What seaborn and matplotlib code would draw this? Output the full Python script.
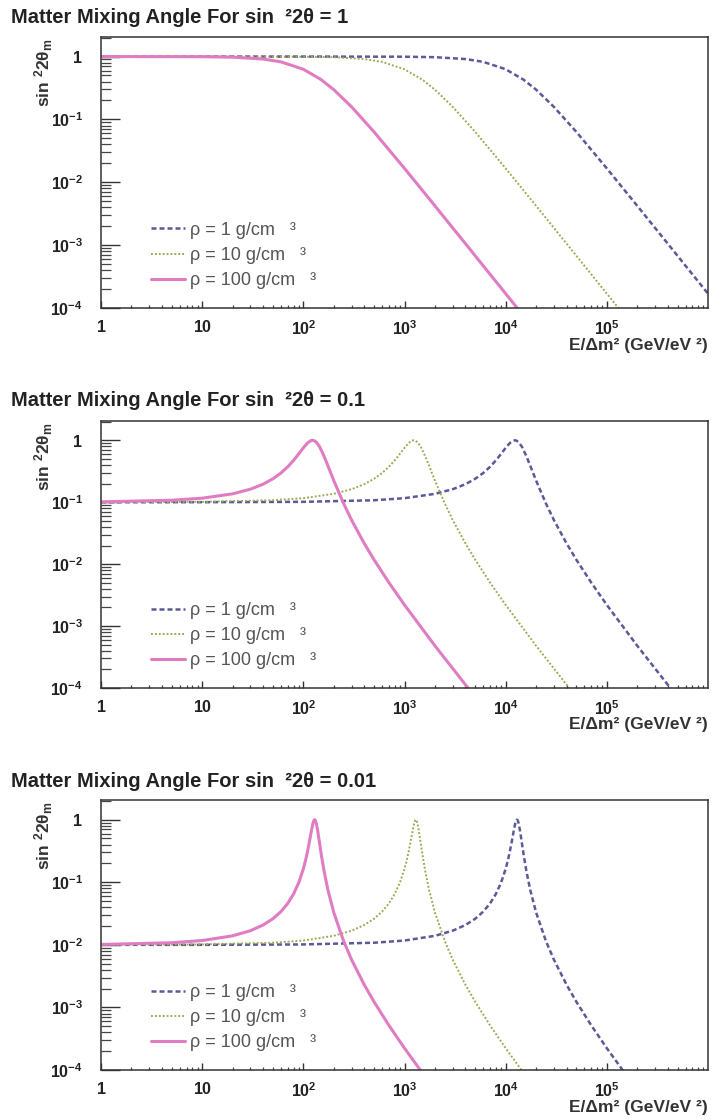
import numpy as np
import pandas as pd
import matplotlib
matplotlib.use("Agg")
import matplotlib.pyplot as plt
from matplotlib.ticker import LogLocator, FuncFormatter, NullFormatter
import seaborn as sns

sns.set_style("ticks")
plt.rcParams['font.family'] = ['Liberation Sans', 'DejaVu Sans']
plt.rcParams['mathtext.fontset'] = 'custom'
plt.rcParams['mathtext.bf'] = 'Liberation Sans:bold'
plt.rcParams['mathtext.rm'] = 'Liberation Sans'
plt.rcParams['mathtext.default'] = 'bf'

# values, E/dm^2 in GeV/eV^2
# panel 1 : sin^2 2theta = 1
p1_e_1 = [1, 10, 100, 1000, 2000, 4000, 6000, 10000, 15000, 20000, 30000, 50000, 100000, 200000, 500000, 1000000]
p1_y_1 = [1.0, 1.0, 1.0, 0.994, 0.977, 0.913, 0.824, 0.628, 0.429, 0.297, 0.158, 0.0633, 0.0166, 0.00421, 0.000676, 0.000169]
p1_e_10 = [1, 10, 100, 200, 400, 600, 1000, 1500, 2000, 3000, 5000, 10000, 20000, 50000, 100000, 200000]
p1_y_10 = [1.0, 1.0, 0.994, 0.977, 0.913, 0.824, 0.628, 0.429, 0.297, 0.158, 0.0633, 0.0166, 0.00421, 0.000676, 0.000169, 0.0000422]
p1_e_100 = [1, 10, 20, 40, 60, 100, 150, 200, 300, 500, 1000, 2000, 5000, 10000, 20000]
p1_y_100 = [1.0, 0.994, 0.977, 0.913, 0.824, 0.628, 0.429, 0.297, 0.158, 0.0633, 0.0166, 0.00421, 0.000676, 0.000169, 0.0000422]

# panel 2 : sin^2 2theta = 0.1
p2_e_1 = [1, 10, 100, 500, 1000, 2000, 3000, 4000, 5000, 6000, 7000, 8000, 9000, 10000, 11000, 11800, 12300,
          12800, 13500, 14500, 16000, 18000, 20000, 25000, 30000, 40000, 50000, 70000, 100000, 200000, 500000]
p2_y_1 = [0.1000, 0.1002, 0.1015, 0.1077, 0.1163, 0.1367, 0.1625, 0.1957, 0.2391, 0.2964, 0.3727, 0.4737, 0.6034,
          0.7564, 0.905, 0.9835, 1.0, 0.987, 0.9254, 0.7825, 0.5568, 0.3448, 0.2233, 0.0953, 0.0514, 0.0216,
          0.01177, 0.005056, 0.002194, 0.00048, 0.000071]
p2_e_10 = [1, 10, 50, 100, 200, 300, 400, 500, 600, 700, 800, 900, 1000, 1100, 1180, 1230,
           1280, 1350, 1450, 1600, 1800, 2000, 2500, 3000, 4000, 5000, 7000, 10000, 20000, 50000]
p2_y_10 = [0.1002, 0.1015, 0.1077, 0.1163, 0.1367, 0.1625, 0.1957, 0.2391, 0.2964, 0.3727, 0.4737, 0.6034,
           0.7564, 0.905, 0.9835, 1.0, 0.987, 0.9254, 0.7825, 0.5568, 0.3448, 0.2233, 0.0953, 0.0514, 0.0216,
           0.01177, 0.005056, 0.002194, 0.00048, 0.000071]
p2_e_100 = [1, 5, 10, 20, 30, 40, 50, 60, 70, 80, 90, 100, 110, 118, 123,
            128, 135, 145, 160, 180, 200, 250, 300, 400, 500, 700, 1000, 2000, 5000]
p2_y_100 = [0.1015, 0.1077, 0.1163, 0.1367, 0.1625, 0.1957, 0.2391, 0.2964, 0.3727, 0.4737, 0.6034,
            0.7564, 0.905, 0.9835, 1.0, 0.987, 0.9254, 0.7825, 0.5568, 0.3448, 0.2233, 0.0953, 0.0514, 0.0216,
            0.01177, 0.005056, 0.002194, 0.00048, 0.000071]

# panel 3 : sin^2 2theta = 0.01
p3_e_1 = [1, 10, 100, 500, 1000, 2000, 3000, 4000, 5000, 6000, 7000, 8000, 9000, 10000, 10500, 11000, 11500,
          12000, 12400, 12700, 12900, 13100, 13400, 13800, 14300, 15000, 16000, 17500, 20000, 25000, 30000,
          40000, 50000, 70000, 100000, 150000]
p3_y_1 = [0.0100, 0.0100, 0.01015, 0.01081, 0.01172, 0.01394, 0.01684, 0.02073, 0.02614, 0.03394, 0.04579,
          0.0649, 0.0984, 0.164, 0.2218, 0.3111, 0.4507, 0.659, 0.855, 0.968, 0.999, 0.984, 0.8865, 0.6935,
          0.4755, 0.284, 0.1524, 0.075, 0.03274, 0.01148, 0.00577, 0.002302, 0.001229, 0.000519, 0.000223,
          0.000090]
p3_e_10 = [1, 10, 50, 100, 200, 300, 400, 500, 600, 700, 800, 900, 1000, 1050, 1100, 1150,
           1200, 1240, 1270, 1290, 1310, 1340, 1380, 1430, 1500, 1600, 1750, 2000, 2500, 3000,
           4000, 5000, 7000, 10000, 15000]
p3_y_10 = [0.0100, 0.01015, 0.01081, 0.01172, 0.01394, 0.01684, 0.02073, 0.02614, 0.03394, 0.04579,
           0.0649, 0.0984, 0.164, 0.2218, 0.3111, 0.4507, 0.659, 0.855, 0.968, 0.999, 0.984, 0.8865, 0.6935,
           0.4755, 0.284, 0.1524, 0.075, 0.03274, 0.01148, 0.00577, 0.002302, 0.001229, 0.000519, 0.000223,
           0.000090]
p3_e_100 = [1, 5, 10, 20, 30, 40, 50, 60, 70, 80, 90, 100, 105, 110, 115,
            120, 124, 127, 129, 131, 134, 138, 143, 150, 160, 175, 200, 250, 300,
            400, 500, 700, 1000, 1500]
p3_y_100 = [0.01015, 0.01081, 0.01172, 0.01394, 0.01684, 0.02073, 0.02614, 0.03394, 0.04579,
            0.0649, 0.0984, 0.164, 0.2218, 0.3111, 0.4507, 0.659, 0.855, 0.968, 0.999, 0.984, 0.8865, 0.6935,
            0.4755, 0.284, 0.1524, 0.075, 0.03274, 0.01148, 0.00577, 0.002302, 0.001229, 0.000519, 0.000223,
            0.000090]

x_ticks = [1, 10, 100, 1000, 10000, 100000]
y_ticks = [0.0001, 0.001, 0.01, 0.1, 1]

titles = ["Matter Mixing Angle For sin  \u00b22\u03b8 = 1",
          "Matter Mixing Angle For sin  \u00b22\u03b8 = 0.1",
          "Matter Mixing Angle For sin  \u00b22\u03b8 = 0.01"]
labels = ["\u03c1 = 1 g/cm   \u00b3", "\u03c1 = 10 g/cm   \u00b3", "\u03c1 = 100 g/cm   \u00b3"]
colors = ["#5a5a98", "#9cab55", "#e07cc2"]

panels = [
    [(p1_e_1, p1_y_1), (p1_e_10, p1_y_10), (p1_e_100, p1_y_100)],
    [(p2_e_1, p2_y_1), (p2_e_10, p2_y_10), (p2_e_100, p2_y_100)],
    [(p3_e_1, p3_y_1), (p3_e_10, p3_y_10), (p3_e_100, p3_y_100)],
]

styles = [dict(linestyle=(0, (2.0, 1.2)), lw=1.8),
          dict(linestyle=(0, (1.0, 1.0)), lw=1.4),
          dict(linestyle="-", lw=2.2)]

# axes boxes in figure fractions (left, bottom, width, height)
boxes = [(0.1419, 0.7250, 0.8525, 0.2420),
         (0.1419, 0.3857, 0.8525, 0.2384),
         (0.1419, 0.0446, 0.8525, 0.2410)]
title_y = [0.984, 0.642, 0.302]


def fmt(v, pos):
    n = int(round(np.log10(v)))
    if n == 0:
        return "$1$"
    if n == 1:
        return "$10$"
    return "$10^{%d}$" % n


fig = plt.figure(figsize=(7.12, 11.2), dpi=100)

for i, curves in enumerate(panels):
    ax = fig.add_axes(boxes[i])
    ax.set(xscale="log", yscale="log")
    for j, (e, y) in enumerate(curves):
        df = pd.DataFrame({"E": e, "s": y})
        sns.lineplot(data=df, x="E", y="s", ax=ax, color=colors[j], label=labels[j],
                     estimator=None, sort=False, **styles[j])
    ax.set_xlim(1, 1e6)
    ax.set_ylim(1e-4, 2.05)
    ax.set_xlabel("")
    ax.set_ylabel("")

    ax.set_xticks(x_ticks)
    ax.set_yticks(y_ticks)
    ax.xaxis.set_minor_locator(LogLocator(base=10, subs=np.arange(2, 10), numticks=20))
    ax.yaxis.set_minor_locator(LogLocator(base=10, subs=np.arange(2, 10), numticks=20))
    ax.xaxis.set_major_formatter(FuncFormatter(fmt))
    ax.yaxis.set_major_formatter(FuncFormatter(fmt))
    ax.xaxis.set_minor_formatter(NullFormatter())
    ax.yaxis.set_minor_formatter(NullFormatter())

    ax.tick_params(axis="y", which="major", direction="in", length=14, width=1.0, pad=13,
                   labelsize=11.5, colors="#333333", labelcolor="#222222")
    ax.tick_params(axis="y", which="minor", direction="in", length=7, width=0.9, colors="#444444")
    ax.tick_params(axis="x", which="major", direction="in", length=5, width=1.0, pad=8,
                   labelsize=11.5, colors="#333333", labelcolor="#222222")
    ax.tick_params(axis="x", which="minor", direction="in", length=2.5, width=0.9, colors="#444444")
    for sp in ax.spines.values():
        sp.set_color("#333333")
        sp.set_linewidth(1.1)

    ax.legend(loc="lower left", bbox_to_anchor=(0.055, 0.01), frameon=False, fontsize=13,
              handlelength=1.9, handletextpad=0.3, labelspacing=0.45, labelcolor="#555555")

    ax.text(-0.094, 0.995, r"sin $^{2}$2$\theta_{m}$", transform=ax.transAxes, rotation=90,
            ha="center", va="top", fontsize=12.5, fontweight="bold", color="#333333")
    ax.text(1.0, -0.137, "E/\u0394m\u00b2 (GeV/eV \u00b2)", transform=ax.transAxes,
            ha="right", va="center", fontsize=12.5, fontweight="bold", color="#333333")

    fig.text(0.016, title_y[i], titles[i], ha="left", va="center", fontsize=14.5,
             fontweight="bold", color="#222222")

fig.savefig("out.png", dpi=100, facecolor="white")
